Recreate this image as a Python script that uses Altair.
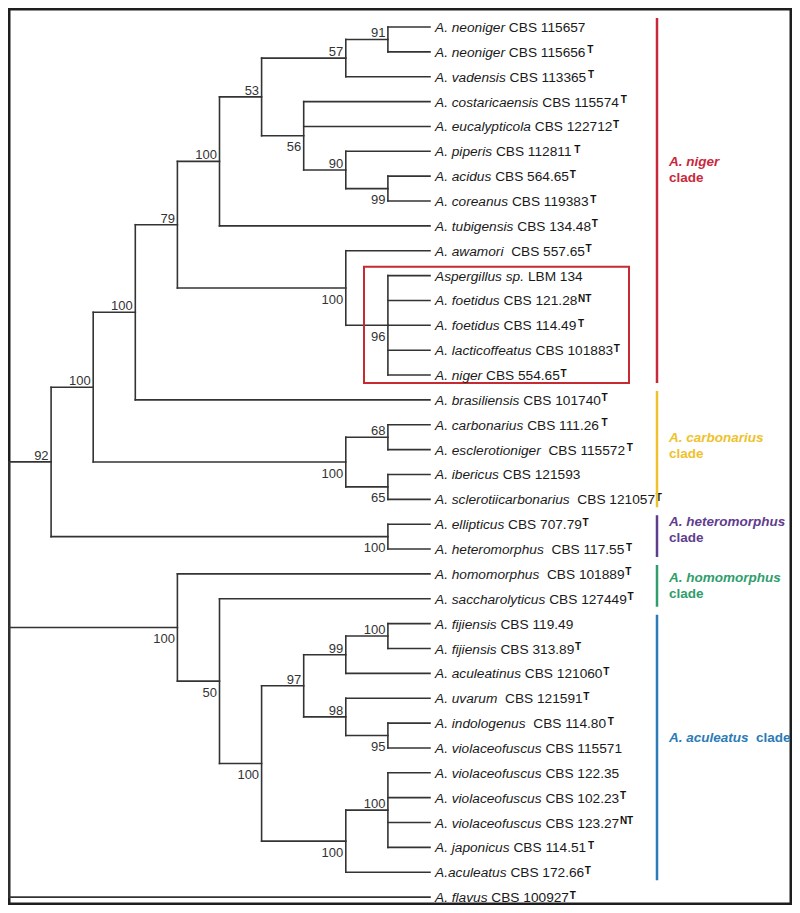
import altair as alt
import pandas as pd

# ---------------- data ----------------
# leaves, top to bottom
species = ["A. neoniger", "A. neoniger", "A. vadensis", "A. costaricaensis", "A. eucalypticola",
           "A. piperis", "A. acidus", "A. coreanus", "A. tubigensis", "A. awamori",
           "Aspergillus sp.", "A. foetidus", "A. foetidus", "A. lacticoffeatus", "A. niger",
           "A. brasiliensis", "A. carbonarius", "A. esclerotioniger", "A. ibericus", "A. sclerotiicarbonarius",
           "A. ellipticus", "A. heteromorphus", "A. homomorphus", "A. saccharolyticus", "A. fijiensis",
           "A. fijiensis", "A. aculeatinus", "A. uvarum", "A. indologenus", "A. violaceofuscus",
           "A. violaceofuscus", "A. violaceofuscus", "A. violaceofuscus", "A. japonicus", "A.aculeatus",
           "A. flavus"]
strains = ["CBS 115657", "CBS 115656", "CBS 113365", "CBS 115574", "CBS 122712",
           "CBS 112811", "CBS 564.65", "CBS 119383", "CBS 134.48", "CBS 557.65",
           "LBM 134", "CBS 121.28", "CBS 114.49", "CBS 101883", "CBS 554.65",
           "CBS 101740", "CBS 111.26", "CBS 115572", "CBS 121593", "CBS 121057",
           "CBS 707.79", "CBS 117.55", "CBS 101889", "CBS 127449", "CBS 119.49",
           "CBS 313.89", "CBS 121060", "CBS 121591", "CBS 114.80", "CBS 115571",
           "CBS 122.35", "CBS 102.23", "CBS 123.27", "CBS 114.51", "CBS 172.66",
           "CBS 100927"]
type_marks = ["", "T", "T", "T", "T", "T", "T", "T", "T", "T",
              "", "NT", "T", "T", "T", "T", "T", "T", "", "T",
              "T", "T", "T", "T", "", "T", "T", "T", "T", "",
              "", "T", "NT", "T", "T", "T"]
name_gaps = [1, 1, 1, 1, 1, 1, 1, 1, 1, 2,
             1, 1, 1, 1, 1, 1, 1, 2, 1, 2,
             1, 2, 2, 1, 1, 1, 1, 2, 2, 1,
             1, 1, 1, 1, 1, 1]
leaf_parent = ["n91", "n91", "n57", "n56", "n56", "n90", "n99", "n99", "n100c", "n100d",
               "n96", "n96", "n96", "n96", "n96", "n100b", "n68", "n68", "n65", "n65",
               "n100f", "n100f", "n100g", "n50", "n100j", "n100j", "n99b", "n98", "n95", "n95",
               "n100k", "n100k", "n100k", "n100k", "n100i", "root"]
leaf_depth = 10

# internal nodes
node_ids = ["root", "n92", "n100a", "n100b", "n79", "n100c", "n53", "n57", "n91", "n56",
            "n90", "n99", "n100d", "n96", "n100e", "n68", "n65", "n100f", "n100g", "n50",
            "n100h", "n97", "n99b", "n100j", "n98", "n95", "n100i", "n100k"]
node_parent = [None, "root", "n92", "n100a", "n100b", "n79", "n100c", "n53", "n57", "n53",
               "n56", "n90", "n79", "n100d", "n100a", "n100e", "n100e", "n92", "root", "n100g",
               "n50", "n100h", "n97", "n99b", "n97", "n98", "n100h", "n100i"]
node_depth = [0, 1, 2, 3, 4, 5, 6, 8, 9, 7,
              8, 9, 8, 9, 8, 9, 9, 9, 4, 5,
              6, 7, 8, 9, 8, 9, 8, 9]
node_support = ["", "92", "100", "100", "79", "100", "53", "57", "91", "56",
                "90", "99", "100", "96", "100", "68", "65", "100", "100", "50",
                "100", "97", "99", "100", "98", "95", "100", "100"]
node_side = ["", "a", "a", "a", "a", "a", "a", "a", "a", "b",
             "a", "b", "b", "b", "b", "a", "b", "b", "b", "b",
             "b", "a", "a", "a", "a", "b", "b", "a"]

clade_names = ["A. niger", "A. carbonarius", "A. heteromorphus", "A. homomorphus", "A. aculeatus"]
clade_first = [0, 15, 20, 22, 24]
clade_last = [14, 19, 21, 23, 34]
clade_colors = ["#c9283b", "#eec22c", "#5f3d8d", "#2f9d6c", "#2b7bb6"]
clade_label_row = [5.58, 16.70, 20.07, 22.32, 28.78]
clade_inline = [False, False, False, False, True]

boxed_rows = [10, 14]

# ---------------- layout ----------------
W, H = 784, 897
U = 42.1        # px per depth level
ROW = 24.86     # px per leaf row
X0 = 1.0        # px of root
Y0 = 19.0       # px of first leaf
FONT = "Liberation Sans, Arial, sans-serif"
FS = 13.7
SUP = 10
BS = 13
CFS = 13.5

REG = {' ': 278, '.': 278, 'A': 667, 'B': 667, 'C': 722, 'L': 556, 'M': 833, 'N': 722, 'S': 667, 'T': 611,
       'a': 556, 'b': 556, 'c': 500, 'd': 556, 'e': 556, 'f': 278, 'g': 556, 'h': 556, 'i': 222,
       'j': 222, 'k': 500, 'l': 222, 'm': 833, 'n': 556, 'o': 556, 'p': 556, 'q': 556, 'r': 333,
       's': 500, 't': 278, 'u': 556, 'v': 500, 'w': 722, 'x': 500, 'y': 500, 'z': 500}
BOLD = {' ': 278, '.': 278, 'A': 722, 'N': 722, 'T': 611, 'a': 556, 'b': 611, 'c': 556, 'd': 611,
        'e': 556, 'g': 611, 'h': 611, 'i': 278, 'l': 278, 'm': 889, 'n': 611, 'o': 611, 'p': 611,
        'r': 389, 's': 556, 't': 333, 'u': 611}


def tw(s, size, bold=False):
    t = BOLD if bold else REG
    return sum(t.get(c, 556) for c in s) * size / 1000.0


xs = alt.Scale(domain=[-X0 / U, (W - X0) / U], nice=False, zero=False)
ys = alt.Scale(domain=[-Y0 / ROW, (H - Y0) / ROW], nice=False, zero=False, reverse=True)


def X(f):
    return alt.X(f, type="quantitative", scale=xs, axis=None)


def Y(f):
    return alt.Y(f, type="quantitative", scale=ys, axis=None)


# tree layout
ypos, depth = {}, {}
children = {n: [] for n in node_ids}
parent_of = {}
for i, p in enumerate(leaf_parent):
    k = f"L{i}"
    ypos[k] = float(i)
    depth[k] = leaf_depth
    children[p].append(k)
    parent_of[k] = p
for n, p, d in zip(node_ids, node_parent, node_depth):
    depth[n] = d
    if p is not None:
        children[p].append(n)
        parent_of[n] = p


def place(n):
    if n in ypos:
        return ypos[n]
    cy = [place(c) for c in children[n]]
    ypos[n] = (min(cy) + max(cy)) / 2.0
    return ypos[n]


place("root")

seg_rows = []
for n, p in parent_of.items():
    seg_rows.append(dict(x=depth[p], x2=depth[n], y=ypos[n], y2=ypos[n]))
for n in node_ids:
    cy = [ypos[c] for c in children[n]]
    seg_rows.append(dict(x=depth[n], x2=depth[n], y=min(cy), y2=max(cy)))
seg = pd.DataFrame(seg_rows)

boot = pd.DataFrame([dict(x=depth[n], y=ypos[n], text=s, side=sd)
                     for n, s, sd in zip(node_ids, node_support, node_side) if s])

leaf_rows = []
for i in range(len(species)):
    sx = leaf_depth + 5.0 / U
    tx = sx + tw(species[i] + " " * name_gaps[i], FS) / U
    ux = tx + (tw(strains[i], FS) + 0.6) / U
    leaf_rows.append(dict(row=i, sx=sx, tx=tx, ux=ux, sp=species[i], st=strains[i], sup=type_marks[i]))
leaves = pd.DataFrame(leaf_rows)

clades = pd.DataFrame(dict(name=clade_names, color=clade_colors,
                           top=[f - 0.36 for f in clade_first],
                           bottom=[l + 0.32 for l in clade_last],
                           lrow=clade_label_row, inline=clade_inline))
CLX = 661
clades["cx"] = [(CLX + tw(n + "  ", CFS, True) - X0) / U for n in clade_names]

box = pd.DataFrame(dict(top=[boxed_rows[0] - 0.36], bottom=[boxed_rows[1] + 0.32]))
frame = pd.DataFrame(dict(k=[0]))

# ---------------- layers ----------------
border = alt.Chart(frame).mark_rect(filled=False, color="#1e1e1e", strokeWidth=2.5).encode(
    x=alt.value(1.25), x2=alt.value(W - 1.25), y=alt.value(1.25), y2=alt.value(H - 1.25))

tree = alt.Chart(seg).mark_rule(color="#333333", strokeWidth=1.6, strokeCap="square").encode(
    x=X("x"), x2="x2", y=Y("y"), y2="y2")

boot_a = alt.Chart(boot).transform_filter(alt.datum.side == "a").mark_text(
    align="right", baseline="alphabetic", dx=-2.5, dy=-2, font=FONT, fontSize=BS, color="#333333"
).encode(x=X("x"), y=Y("y"), text="text:N")
boot_b = alt.Chart(boot).transform_filter(alt.datum.side == "b").mark_text(
    align="right", baseline="alphabetic", dx=-2.5, dy=15.5, font=FONT, fontSize=BS, color="#333333"
).encode(x=X("x"), y=Y("y"), text="text:N")

sp_text = alt.Chart(leaves).mark_text(
    align="left", baseline="alphabetic", dy=5, font=FONT, fontSize=FS, fontStyle="italic", color="#1a1a1a"
).encode(x=X("sx"), y=Y("row"), text="sp:N")
st_text = alt.Chart(leaves).mark_text(
    align="left", baseline="alphabetic", dy=5, font=FONT, fontSize=FS, color="#1a1a1a"
).encode(x=X("tx"), y=Y("row"), text="st:N")
sup_text = alt.Chart(leaves).mark_text(
    align="left", baseline="alphabetic", dy=1.5, font=FONT, fontSize=SUP, fontWeight="bold", color="#111111"
).encode(x=X("ux"), y=Y("row"), text="sup:N")

red_box = alt.Chart(box).mark_rect(filled=False, color="#c62a33", strokeWidth=2).encode(
    x=alt.value(356), x2=alt.value(621), y=Y("top"), y2="bottom")

bars = alt.Chart(clades).mark_rule(strokeWidth=2.5).encode(
    x=alt.value(649), y=Y("top"), y2="bottom", color=alt.Color("color:N", scale=None))

clade_name = alt.Chart(clades).mark_text(
    align="left", baseline="alphabetic", font=FONT, fontSize=CFS, fontWeight="bold", fontStyle="italic"
).encode(x=alt.value(CLX), y=Y("lrow"), text="name:N", color=alt.Color("color:N", scale=None))
clade_word = alt.Chart(clades).transform_filter(~alt.datum.inline).mark_text(
    align="left", baseline="alphabetic", dy=16, font=FONT, fontSize=CFS, fontWeight="bold", text="clade"
).encode(x=alt.value(CLX), y=Y("lrow"), color=alt.Color("color:N", scale=None))
clade_word_inline = alt.Chart(clades).transform_filter(alt.datum.inline).mark_text(
    align="left", baseline="alphabetic", font=FONT, fontSize=CFS, fontWeight="bold", text="clade"
).encode(x=X("cx"), y=Y("lrow"), color=alt.Color("color:N", scale=None))

chart = alt.layer(
    border, tree, red_box, boot_a, boot_b, sp_text, st_text, sup_text,
    bars, clade_name, clade_word, clade_word_inline
).properties(
    width=W, height=H, autosize=alt.AutoSizeParams(type="none"), padding=0
).configure_view(strokeWidth=0).configure(background="white")

chart.save("out.html", embed_options={"renderer": "svg", "actions": False})
